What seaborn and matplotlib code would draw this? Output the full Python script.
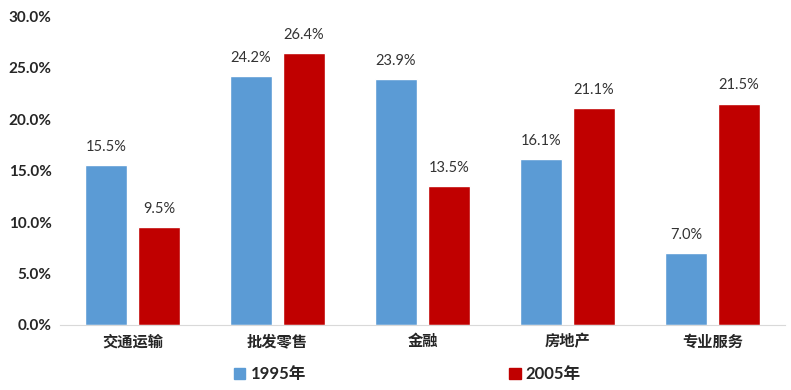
import numpy as np
import pandas as pd
import matplotlib.pyplot as plt
import seaborn as sns
from matplotlib.patches import Patch

# data
categories = ['交通运输', '批发零售', '金融', '房地产', '专业服务']
share_1995 = [15.5, 24.2, 23.9, 16.1, 7.0]
share_2005 = [9.5, 26.4, 13.5, 21.1, 21.5]
years = ['1995年', '2005年']
colors = ['#5B9BD5', '#C00000']

df = pd.DataFrame({
    'cat': categories * 2,
    'year': [years[0]] * 5 + [years[1]] * 5,
    'val': share_1995 + share_2005,
})

sns.set_style('white')
plt.rcParams['font.family'] = ['Noto Sans CJK SC', 'DejaVu Sans']

fig = plt.figure(figsize=(7.91, 3.90), dpi=100)
ax = fig.add_axes([60 / 791, 1 - 325 / 390, 725 / 791, 309 / 390])

sns.barplot(data=df, x='cat', y='val', hue='year', palette=colors,
            width=0.73, gap=0.21, ax=ax, legend=False, saturation=1)

for c in ax.containers:
    ax.bar_label(c, labels=[f'{v:.1f}%' for v in c.datavalues], padding=8,
                 fontsize=10.5, color='#333333', family=['Lato', 'DejaVu Sans'])

ax.set_ylim(0, 30)
ax.set_yticks(np.arange(0, 31, 5))
ax.set_yticklabels([f'{v:.1f}%' for v in np.arange(0, 31, 5)],
                   fontsize=11, fontweight='bold', family=['Lato', 'DejaVu Sans'])
ax.set_xticklabels(categories, fontsize=11, fontweight='bold')
ax.tick_params(axis='both', length=0, pad=6)
ax.set_xlabel('')
ax.set_ylabel('')
for s in ['top', 'right', 'left']:
    ax.spines[s].set_visible(False)
ax.spines['bottom'].set_color('#D9D9D9')

handles = [Patch(color=colors[0], label=years[0]), Patch(color=colors[1], label=years[1])]
fig.legend(handles=handles, loc='center', bbox_to_anchor=(0.515, 0.04), ncol=2,
           frameon=False, handlelength=0.7, handleheight=0.7,
           handletextpad=0.3, columnspacing=12.2,
           prop={'weight': 'bold', 'size': 12, 'family': ['Lato', 'Noto Sans CJK SC']})

fig.savefig('out.png', dpi=100)
